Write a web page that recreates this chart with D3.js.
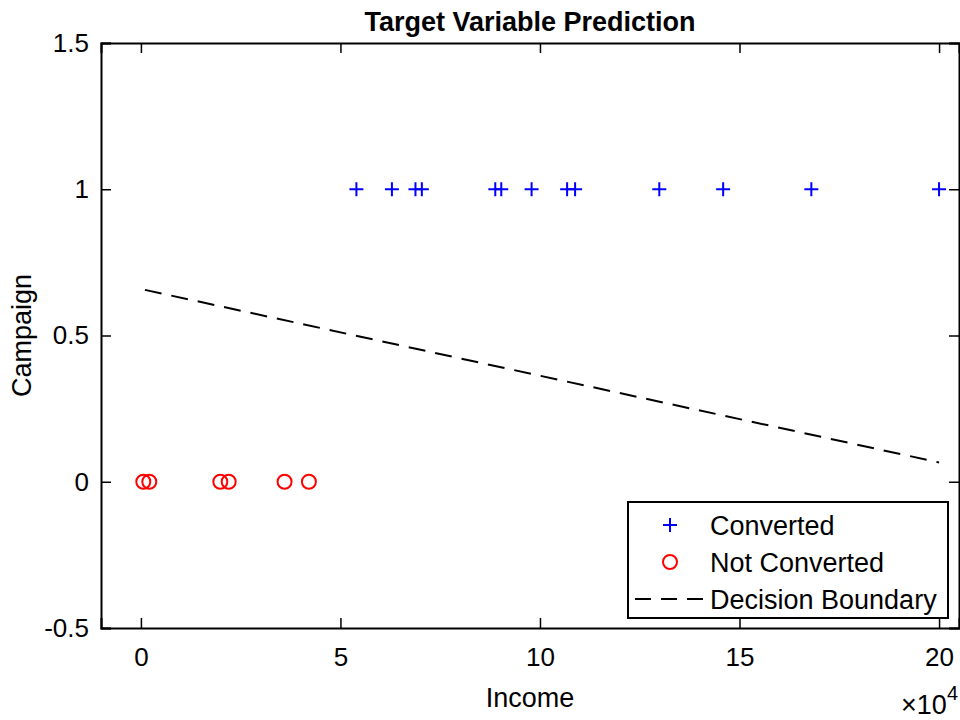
<!DOCTYPE html>
<html><head><meta charset="utf-8">
<script src="https://cdn.jsdelivr.net/npm/d3@7"></script>
<style>body{margin:0;background:#fff;} text{font-family:"Liberation Sans",Arial,Helvetica,sans-serif;}</style>
</head><body>
<svg id="c" width="960" height="720"></svg>
<script>
// Data (income in units of 10^4)
const convertedIncome = [5.40, 6.29, 6.88, 7.04, 8.88, 9.03, 9.79, 10.68, 10.88, 12.99, 14.59, 16.80, 20.0];
const convertedCampaign = [1,1,1,1,1,1,1,1,1,1,1,1,1];
const notConvertedIncome = [0.06, 0.21, 1.99, 2.20, 3.60, 4.21];
const notConvertedCampaign = [0,0,0,0,0,0];
const boundaryIncome = [0.1, 20.0];
const boundaryCampaign = [0.656, 0.066];
const xTicks = [0, 5, 10, 15, 20];
const yTicks = [-0.5, 0, 0.5, 1, 1.5];
const legendLabels = ["Converted", "Not Converted", "Decision Boundary"];

const svg = d3.select("#c");
const L = 101, R = 959, T = 43, B = 628;
const x = d3.scaleLinear().domain([-1, 20.5]).range([L, R]);
const y = d3.scaleLinear().domain([-0.5, 1.5]).range([B, T]);
const tickFont = 26;

// axes
const ax = svg.append("g");
ax.append("g").attr("transform", `translate(0,${B})`)
  .call(d3.axisBottom(x).tickValues(xTicks).tickSize(-10).tickPadding(20).tickFormat(d => String(d)));
ax.append("g").attr("transform", `translate(${L},0)`)
  .call(d3.axisLeft(y).tickValues(yTicks).tickSize(-10).tickPadding(12).tickFormat(d => String(d)));
ax.append("g").attr("transform", `translate(0,${T})`)
  .call(d3.axisTop(x).tickValues(xTicks).tickSize(-10).tickFormat(""));
ax.append("g").attr("transform", `translate(${R},0)`)
  .call(d3.axisRight(y).tickValues(yTicks).tickSize(-10).tickFormat(""));
ax.selectAll(".domain").attr("stroke", "#000").attr("stroke-width", 2);
ax.selectAll(".tick line").attr("stroke", "#000").attr("stroke-width", 1.5);
ax.selectAll(".tick text").attr("fill", "#000").style("font-size", tickFont + "px")
  .style("font-family", "'Liberation Sans',Arial,sans-serif");

// boundary line
const line = d3.line().x(d => x(d[0])).y(d => y(d[1]));
svg.append("path").datum(boundaryIncome.map((v, i) => [v, boundaryCampaign[i]]))
  .attr("d", line).attr("fill", "none").attr("stroke", "#000").attr("stroke-width", 2)
  .attr("stroke-dasharray", "17,10");

// markers
function plus(g, cx, cy) {
  g.append("path").attr("d", `M${cx-7},${cy}H${cx+7}M${cx},${cy-7}V${cy+7}`)
    .attr("stroke", "#0000ff").attr("stroke-width", 2).attr("fill", "none");
}
const pg = svg.append("g");
convertedIncome.forEach((v, i) => plus(pg, x(v), y(convertedCampaign[i])));
svg.append("g").selectAll("circle").data(notConvertedIncome).join("circle")
  .attr("cx", d => x(d)).attr("cy", (d, i) => y(notConvertedCampaign[i])).attr("r", 7)
  .attr("fill", "none").attr("stroke", "#ff0000").attr("stroke-width", 2);

// title and labels
svg.append("text").attr("x", (L + R) / 2).attr("y", 31).attr("text-anchor", "middle")
  .style("font-size", "27px").style("font-weight", "bold").text("Target Variable Prediction");
svg.append("text").attr("x", (L + R) / 2).attr("y", 707).attr("text-anchor", "middle")
  .style("font-size", "27px").text("Income");
svg.append("text").attr("transform", `translate(31,${(T + B) / 2}) rotate(-90)`).attr("text-anchor", "middle")
  .style("font-size", "27px").text("Campaign");
const ex = svg.append("text").attr("x", 958).attr("y", 714).attr("text-anchor", "end").style("font-size", "27px");
ex.append("tspan").text("\u00d710");
ex.append("tspan").attr("dy", -14).style("font-size", "20px").text("4");

// legend
const lg = svg.append("g");
lg.append("rect").attr("x", 628).attr("y", 502).attr("width", 320).attr("height", 116)
  .attr("fill", "#fff").attr("stroke", "#000").attr("stroke-width", 2);
const rows = [525, 562, 599];
plus(lg, 670, rows[0]);
lg.append("circle").attr("cx", 670).attr("cy", rows[1]).attr("r", 7).attr("fill", "none")
  .attr("stroke", "#ff0000").attr("stroke-width", 2);
lg.append("line").attr("x1", 635).attr("x2", 706).attr("y1", rows[2]).attr("y2", rows[2])
  .attr("stroke", "#000").attr("stroke-width", 2).attr("stroke-dasharray", "16,10");
legendLabels.forEach((t, i) => lg.append("text").attr("x", 710).attr("y", rows[i] + 10)
  .style("font-size", "27px").text(t));
</script>
</body></html>
